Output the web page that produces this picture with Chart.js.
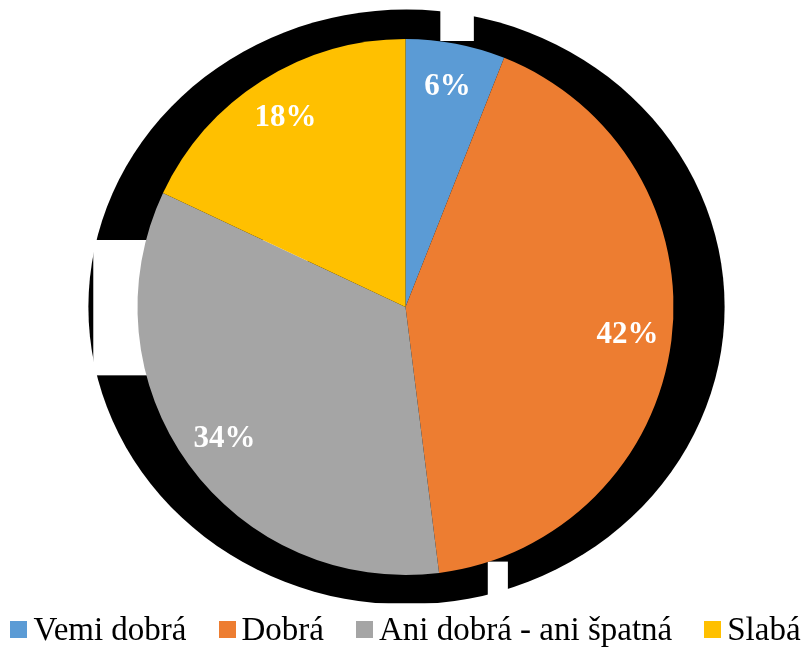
<!DOCTYPE html>
<html>
<head>
<meta charset="utf-8">
<script src="https://cdn.jsdelivr.net/npm/chart.js@4/dist/chart.umd.min.js"></script>
<style>
  html, body { margin: 0; padding: 0; background: #fff; }
  #wrap { position: relative; width: 811px; height: 648px; }
  #legend {
    position: absolute; left: 0; top: 611px; width: 811px; height: 37px;
    display: flex; justify-content: center; align-items: center;
    font-family: "Liberation Serif", "Times New Roman", serif;
    font-size: 33px; line-height: 37px; color: #000; white-space: nowrap;
  }
  #legend .item { display: flex; align-items: center; margin: 0 16px; }
  #legend .box { width: 17px; height: 17px; margin-right: 6px; }
</style>
</head>
<body>
<div id="wrap">
  <canvas id="pie"></canvas>
  <div id="legend"></div>
</div>
<script>
// data
var categories = ["Vemi dobrá", "Dobrá", "Ani dobrá - ani špatná", "Slabá"];
var shares = [6, 42, 34, 18];
var sliceColors = ["#5b9bd5", "#ed7d31", "#a5a5a5", "#ffc000"];

// black blob behind the pie (an artefact in the original image)
var shadowPlugin = {
    id: 'shadow',
    beforeDatasetsDraw: function(chart) {
        var arc = chart.getDatasetMeta(0).data[0];
        if (!arc) return;
        var cx = arc.x, cy = arc.y, r = arc.outerRadius;
        var ctx = chart.ctx;
        ctx.save();
        ctx.beginPath();
        ctx.rect(0, 0, chart.width, cy + 1.105 * r);
        ctx.clip();
        ctx.fillStyle = '#000';
        ctx.beginPath();
        ctx.ellipse(cx + 1, cy, 1.187 * r, 1.11 * r, 0, 0, Math.PI * 2);
        ctx.fill();
        // white gaps in the blob
        ctx.fillStyle = '#fff';
        ctx.fillRect(cx - 1.165 * r, cy - 0.25 * r, 0.8 * r, 0.505 * r);
        ctx.fillRect(cx + 0.13 * r, 0, 0.125 * r, cy - r + 2);
        ctx.fillRect(cx + 0.307 * r, cy + 0.95 * r, 0.075 * r, 0.3 * r);
        ctx.restore();
    }
};

// white percentage labels inside the slices
var labelPlugin = {
    id: 'sliceLabels',
    afterDatasetsDraw: function(chart) {
        var ctx = chart.ctx;
        var meta = chart.getDatasetMeta(0);
        ctx.save();
        ctx.fillStyle = '#fff';
        ctx.font = 'bold 31px "Liberation Serif", "Times New Roman", serif';
        ctx.textAlign = 'center';
        ctx.textBaseline = 'middle';
        meta.data.forEach(function(arc, i) {
            var mid = (arc.startAngle + arc.endAngle) / 2;
            var d = arc.outerRadius * 0.835;
            ctx.fillText(shares[i] + '%', arc.x + Math.cos(mid) * d, arc.y + Math.sin(mid) * d);
        });
        ctx.restore();
    }
};

// html legend under the pie, built from the chart's own legend items
var htmlLegend = {
    id: 'htmlLegend',
    afterUpdate: function(chart) {
        var box = document.getElementById('legend');
        box.innerHTML = '';
        chart.options.plugins.legend.labels.generateLabels(chart).forEach(function(item) {
            var el = document.createElement('div');
            el.className = 'item';
            var sq = document.createElement('span');
            sq.className = 'box';
            sq.style.background = item.fillStyle;
            el.appendChild(sq);
            el.appendChild(document.createTextNode(item.text));
            box.appendChild(el);
        });
    }
};

var ctx = document.getElementById("pie").getContext('2d');
var pieChart = new Chart(ctx, {
    type: 'pie',
    data: {
        labels: categories,
        datasets: [{
            data: shares,
            backgroundColor: sliceColors,
            borderWidth: 0
        }]
    },
    options: {
        responsive: true,
        maintainAspectRatio: false,
        animation: false,
        layout: {
            padding: { top: 39, bottom: 73 }
        },
        plugins: {
            legend: { display: false },
            tooltip: { enabled: false }
        }
    },
    plugins: [shadowPlugin, labelPlugin, htmlLegend]
});
</script>
</body>
</html>
